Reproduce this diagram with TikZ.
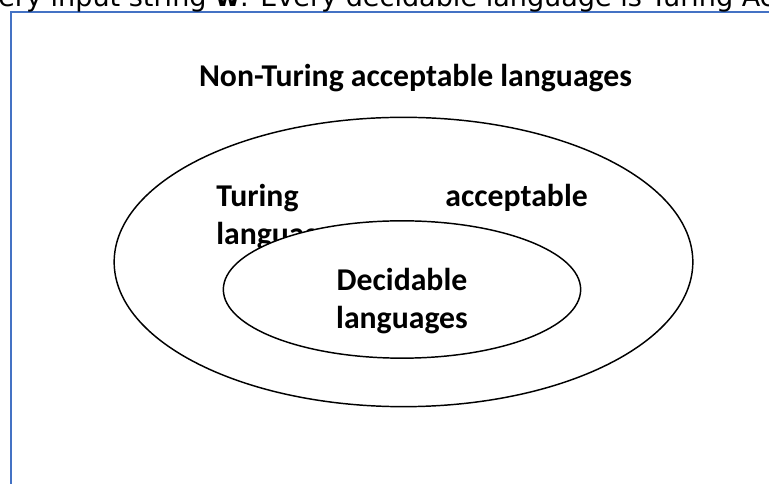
\documentclass[tikz,border=0pt]{standalone}
\usepackage{fontspec}
\setmainfont{Carlito}
\newfontfamily\bodyfont{DejaVu Sans}
\usetikzlibrary{shapes.geometric}
\definecolor{FrameBlue}{HTML}{4472C4}

\begin{document}
\begin{tikzpicture}[x=0.75pt,y=-0.75pt,
          every node/.style={font=\fontsize{23.8}{28.5}\selectfont\bfseries, inner sep=0pt},
          setbox/.style={ellipse, draw=black, line width=1.1pt, fill=white}]
        \useasboundingbox (0,0) rectangle (769,484);
        % frame of the text box
        \coordinate (fr-top) at (11,12);
        \coordinate (fr-right) at (769,12);
        \coordinate (fr-bottom) at (11,484);
        \draw[FrameBlue, line width=1.5pt] (fr-right) -- (fr-top) -- (fr-bottom);
        % cut line of the running text above
        \node[anchor=base west, font=\bodyfont\fontsize{20.3}{24}\selectfont]
        (prose) at (-2,7) {ery input string \textbf{w}. Every decidable language is Turing Ac};

        \node[anchor=base] (nonacc) at (415.5,87) {Non-Turing acceptable languages};
        \node[setbox, minimum width=434pt, minimum height=217pt] (acc) at (403.5,262) {};
        \node[anchor=base west] (acc-a) at (216,207) {Turing};
        \node[anchor=base east] (acc-b) at (588,207) {acceptable};
        \node[anchor=base west] (acc-c) at (216,245) {languages};
        \node[setbox, minimum width=268pt, minimum height=103pt] (dec) at (402,289.5) {};
        \node[anchor=base] (dec-a) at (402,291) {Decidable};
        \node[anchor=base] (dec-b) at (402,329) {languages};
      \end{tikzpicture}
\end{document}
